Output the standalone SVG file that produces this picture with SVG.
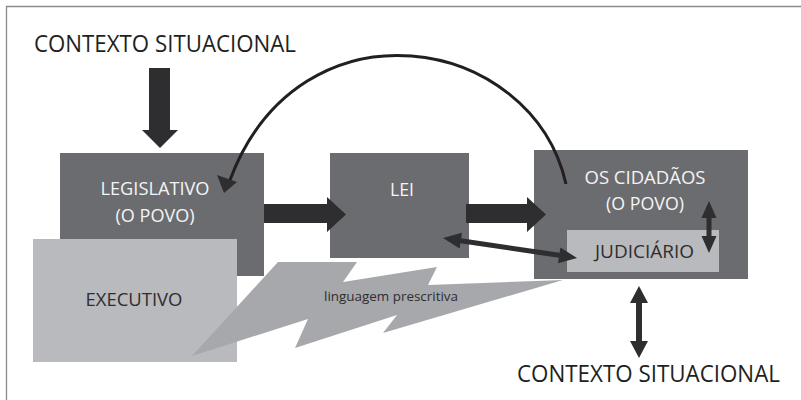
<svg xmlns="http://www.w3.org/2000/svg" width="801" height="400" viewBox="0 0 801 400">
<style>
.dark{fill:#6b6c70}
.light{fill:#b9babd}
.arr{fill:#2e2d2f}
.wt{font-family:"Open Sans","Liberation Sans",sans-serif;font-size:18px;fill:#f4f4f4;text-anchor:middle}
.bt{font-family:"Open Sans","Liberation Sans",sans-serif;font-size:18px;fill:#2e2d2f;text-anchor:middle}
.ctx{font-family:"Open Sans","Liberation Sans",sans-serif;font-size:23px;fill:#231f20}
</style>
<rect x="0" y="0" width="801" height="400" fill="#ffffff"/>
<path d="M6.5,400 V6.5 H801" fill="none" stroke="#8a8a8a" stroke-width="1.3"/>
<g id="contexto-top"><text class="ctx" x="34" y="52" textLength="262" lengthAdjust="spacingAndGlyphs">CONTEXTO SITUACIONAL</text></g>
<g id="legislativo"><rect class="dark" x="60" y="153" width="204" height="123"/><text class="wt" x="155" y="195" textLength="109" lengthAdjust="spacingAndGlyphs">LEGISLATIVO</text><text class="wt" x="155" y="222" textLength="79" lengthAdjust="spacingAndGlyphs">(O POVO)</text></g>
<g id="executivo"><rect class="light" x="33" y="239" width="204" height="123"/><text class="bt" x="134" y="306" textLength="97" lengthAdjust="spacingAndGlyphs">EXECUTIVO</text></g>
<g id="linguagem"><polygon fill="#a7a8ab" points="192,356 278,262 357,262 343,282 437,267 428,285 563,280 383,333 397,315 295,348 308,319"/><text x="391" y="301" font-family="'Open Sans','Liberation Sans',sans-serif" font-size="12" fill="#2e2d2f" text-anchor="middle" textLength="134" lengthAdjust="spacingAndGlyphs">linguagem prescritiva</text></g>
<g id="lei"><rect class="dark" x="330" y="153" width="139" height="105"/><text class="wt" x="402" y="196" textLength="24" lengthAdjust="spacingAndGlyphs">LEI</text></g>
<g id="cidadaos"><rect class="dark" x="534" y="150" width="214" height="129"/><text class="wt" x="645" y="184" textLength="121" lengthAdjust="spacingAndGlyphs">OS CIDADÃOS</text><text class="wt" x="645" y="210" textLength="78" lengthAdjust="spacingAndGlyphs">(O POVO)</text></g>
<g id="judiciario"><rect class="light" x="567" y="230" width="152" height="42"/><text class="bt" x="644.5" y="258" textLength="99" lengthAdjust="spacingAndGlyphs">JUDICIÁRIO</text></g>
<g id="contexto-bottom"><text class="ctx" x="517" y="382" textLength="263" lengthAdjust="spacingAndGlyphs">CONTEXTO SITUACIONAL</text></g>
<g id="connectors">
<polygon class="arr" points="149,68 170,68 170,130 178,130 160,148 142,130 149,130"/>
<polygon class="arr" points="264,204 327,204 327,197 346,214.5 327,232 327,223 264,223"/>
<polygon class="arr" points="466,204 527,204 527,197 546,214.5 527,232 527,223 466,223"/>
<path d="M566,184 C532,34 300,-6 230,180" fill="none" stroke="#231f20" stroke-width="3"/>
<polygon class="arr" points="224,193 217,175 237,182"/>
<polygon class="arr" transform="translate(443,238) rotate(8.49)" points="0,0 18,-8 18,-2.5 117.5,-2.5 117.5,-8 135.5,0 117.5,8 117.5,2.5 18,2.5 18,8"/>
<polygon class="arr" transform="translate(709,201) rotate(90)" points="0,0 17,-7.5 17,-2.5 35,-2.5 35,-7.5 52,0 35,7.5 35,2.5 17,2.5 17,7.5"/>
<polygon class="arr" transform="translate(639,286) rotate(90)" points="0,0 17,-9 17,-3 55,-3 55,-9 72,0 55,9 55,3 17,3 17,9"/>
</g>
</svg>
